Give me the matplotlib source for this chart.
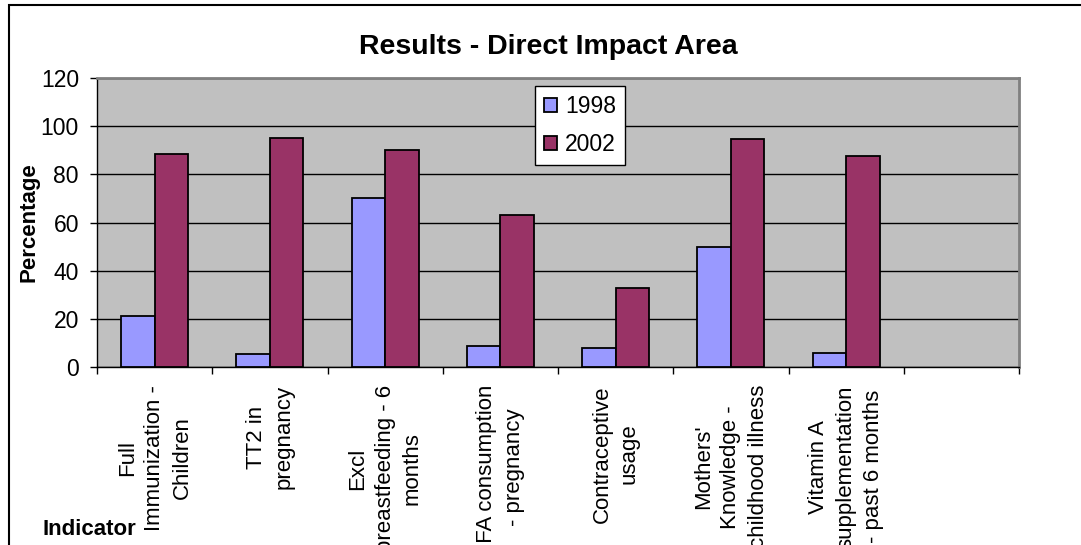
import numpy as np
import matplotlib
matplotlib.use("Agg")
import matplotlib.pyplot as plt
from matplotlib.patches import Rectangle

plt.rcParams['font.family'] = ['Liberation Sans', 'DejaVu Sans']

indicators = [
    "Full\nImmunization -\nChildren",
    "TT2 in\npregnancy",
    "Excl\nbreastfeeding - 6\nmonths",
    "IFA consumption\n- pregnancy",
    "Contraceptive\nusage",
    "Mothers'\nKnowledge -\nchildhood illness",
    "Vitamin A\nsupplementation\n- past 6 months",
    "",
]
y1998 = [21, 5.5, 70, 8.6, 8, 50, 5.8]
y2002 = [88.3, 95.2, 90.3, 63.3, 33, 94.8, 87.7]
years = ["1998", "2002"]
colors = ["#9999FF", "#993366"]

W, H = 1081, 545
fig = plt.figure(figsize=(W / 100, H / 100), dpi=100)
ax = fig.add_axes([97 / W, 1 - 367 / H, (1019 - 97) / W, (367 - 78) / H])
ax.set_facecolor("#C0C0C0")

x = np.arange(len(y1998))
w = 0.29
ax.bar(x - w / 2, y1998, w, color=colors[0], edgecolor="black", linewidth=1.3,
       label=years[0], zorder=3)
ax.bar(x + w / 2, y2002, w, color=colors[1], edgecolor="black", linewidth=1.3,
       label=years[1], zorder=3)

ax.set_xlim(-0.5, len(indicators) - 0.5)
ax.set_ylim(0, 120)
ax.set_yticks(range(0, 121, 20))
ax.yaxis.grid(True, color="black", linewidth=1, zorder=1)
ax.tick_params(axis="y", labelsize=16.5, length=5, width=1, direction="out", pad=8)

# category labels sit at slot centres, tick marks at slot boundaries
ax.set_xticks(np.arange(len(indicators)))
ax.set_xticklabels(indicators, rotation=90, va="top", ha="center",
                   multialignment="center", linespacing=1.4)
ax.set_xticks(np.arange(len(indicators) + 1) - 0.5, minor=True)
ax.tick_params(axis="x", which="major", length=0, labelsize=16, pad=13)
ax.tick_params(axis="x", which="minor", length=5, width=1, direction="out")

for side in ["top", "right"]:
    ax.spines[side].set_color("#808080")
    ax.spines[side].set_linewidth(2)
for side in ["left", "bottom"]:
    ax.spines[side].set_color("black")
    ax.spines[side].set_linewidth(1)

leg = ax.legend(loc="upper left", bbox_to_anchor=(535 / W, 1 - 86 / H),
                bbox_transform=fig.transFigure, borderaxespad=0,
                fontsize=16.5, frameon=True, fancybox=False, framealpha=1,
                handlelength=0.55, handleheight=0.55, handletextpad=0.35,
                labelspacing=0.65, borderpad=0.4)
leg.get_frame().set_edgecolor("black")
leg.get_frame().set_facecolor("white")
leg.get_frame().set_linewidth(1)

fig.text(548 / W, 1 - 47 / H, "Results - Direct Impact Area",
         ha="center", va="center", fontsize=20.5, fontweight="bold")
fig.text(29 / W, 1 - 222 / H, "Percentage", rotation=90,
         ha="center", va="center", fontsize=16, fontweight="bold")
fig.text(43 / W, 1 - 535 / H, "Indicator", ha="left", va="baseline",
         fontsize=16, fontweight="bold")

# chart border, running off the right and bottom edges
fig.patches.append(Rectangle((9 / W, -0.1), 1.2, 1.1 - 5 / H,
                             transform=fig.transFigure, fill=False,
                             edgecolor="black", linewidth=1.5))

fig.savefig("out.png", dpi=100)
